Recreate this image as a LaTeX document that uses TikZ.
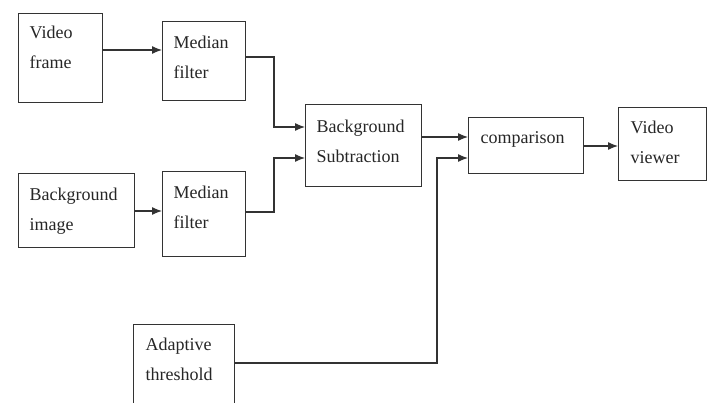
\documentclass[tikz,border=0pt]{standalone}
\usepackage{fontspec}
\setmainfont{Liberation Serif}
\newfontfamily\tmsfont{Liberation Serif}
\usetikzlibrary{arrows.meta}
\tikzset{
 blk/.style={draw=black!80, line width=1.2pt, anchor=north west, inner ysep=0pt, inner xsep=11pt, align=left, font=\tmsfont\fontsize{18}{30}\selectfont, text=black!85},
 arr/.style={line width=1.2pt, draw=black!80, -{Latex[length=10pt,width=8pt]}}
}
\begin{document}
\begin{tikzpicture}[x=1pt,y=-1pt]
\useasboundingbox (0,0) rectangle (715,403);
\clip (0,0) rectangle (715,403);
\fill[white] (0,0) rectangle (715,403);
\node[blk, text width=62pt, text height=25pt, text depth=64pt] (vf) at (18,13) {Video\\frame};
\node[blk, text width=61pt, text height=27pt, text depth=52pt] (mf1) at (162,21) {Median\\filter};
\node[blk, text width=94pt, text height=27pt, text depth=47pt] (bi) at (18,173) {Background\\image};
\node[blk, text width=61pt, text height=27pt, text depth=58pt] (mf2) at (162,171) {Median\\filter};
\node[blk, text width=94pt, text height=28pt, text depth=54pt] (bs) at (305,104) {Background\\Subtraction};
\node[blk, inner xsep=12pt, text width=91pt, text height=26pt, text depth=30pt] (cmp) at (468,117) {comparison};
\node[blk, inner xsep=12pt, text width=64pt, text height=26pt, text depth=47pt] (vv) at (618,107) {Video\\viewer};
\node[blk, inner xsep=12pt, text width=77pt, text height=26pt, text depth=62pt] (at) at (133,324) {Adaptive\\threshold};
\draw[arr] (vf.east |- 0,50) -- (mf1.west |- 0,50);
\draw[arr] (bi.east |- 0,211) -- (mf2.west |- 0,211);
\draw[arr] (mf1.east |- 0,57) -| (274,127) -- (bs.west |- 0,127);
\draw[arr] (mf2.east |- 0,212) -| (274,158) -- (bs.west |- 0,158);
\draw[arr] (bs.east |- 0,137) -- (cmp.west |- 0,137);
\draw[arr] (at.east |- 0,363) -| (437,158) -- (cmp.west |- 0,158);
\draw[arr] (cmp.east |- 0,146) -- (vv.west |- 0,146);
\end{tikzpicture}
\end{document}
